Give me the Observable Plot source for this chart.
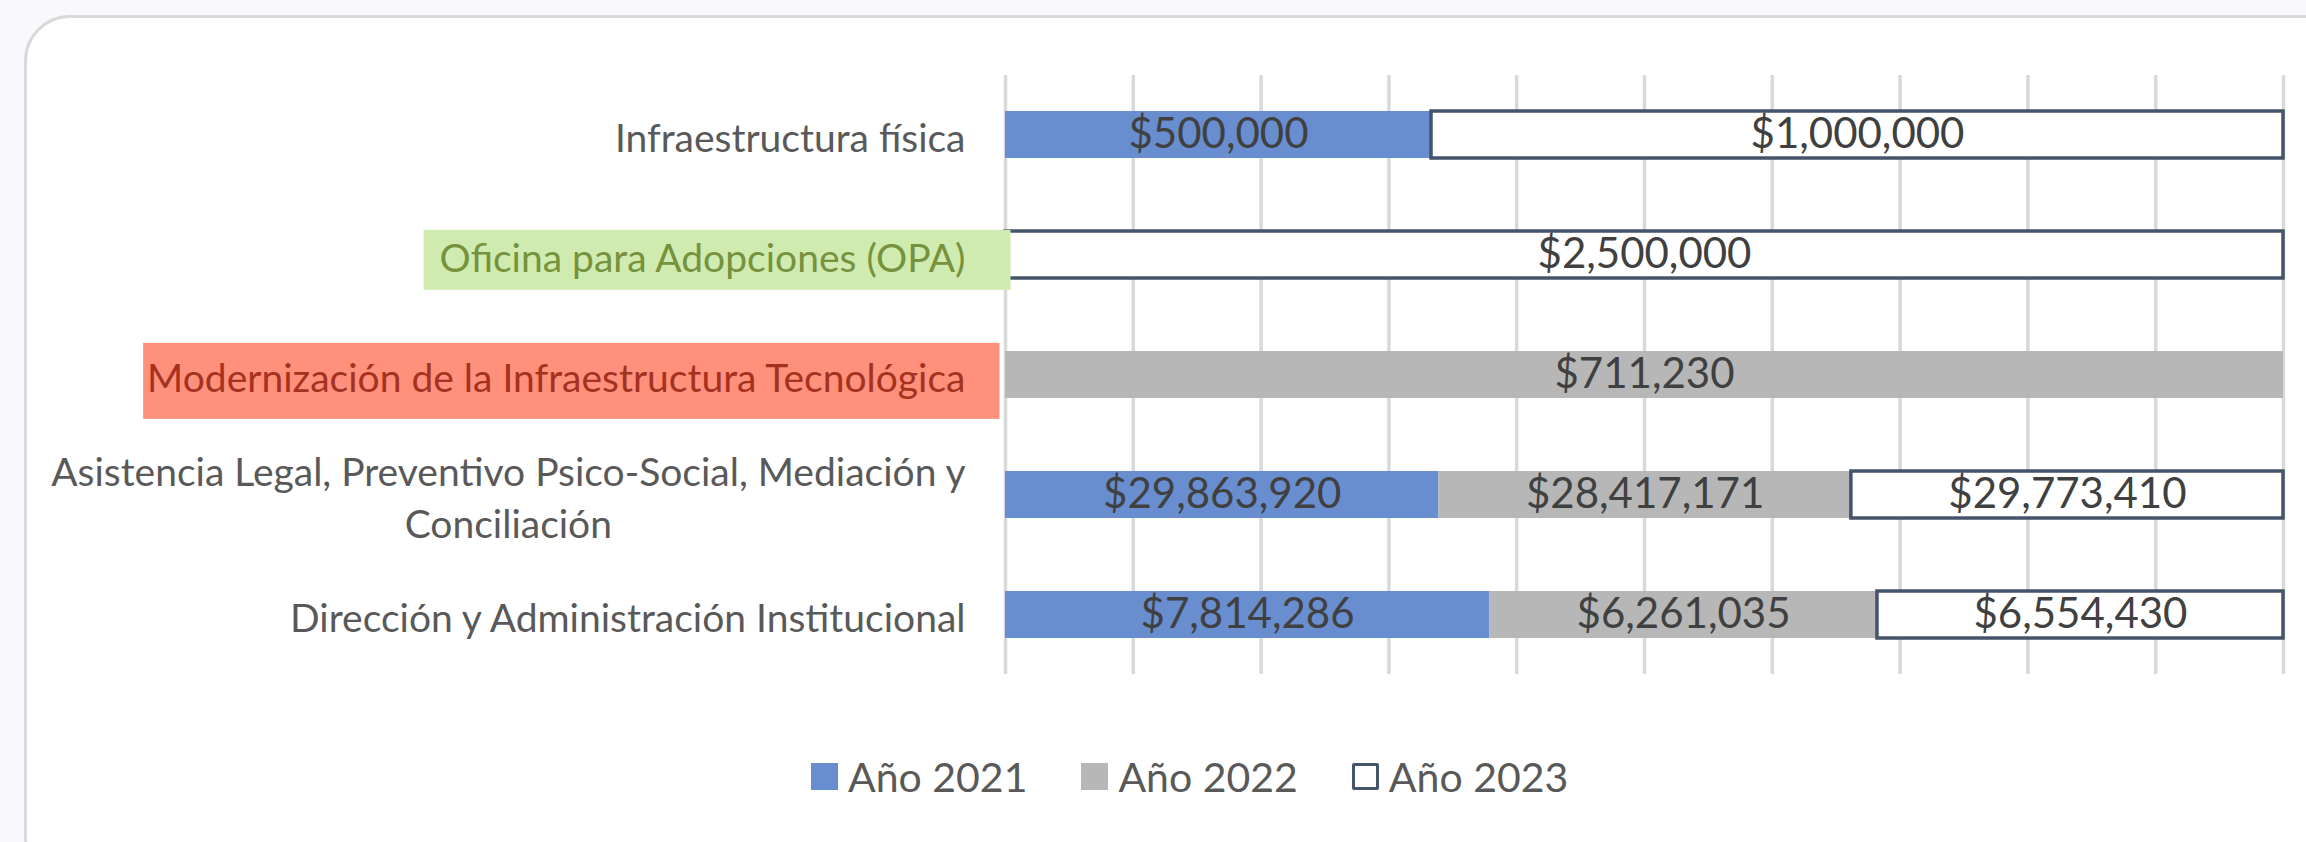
<!DOCTYPE html>
<html>
<head>
<meta charset="utf-8">
<script src="https://cdn.jsdelivr.net/npm/d3@7"></script>
<script src="https://cdn.jsdelivr.net/npm/@observablehq/plot@0.6"></script>
<style>
  html, body { margin: 0; padding: 0; }
  body { width: 2306px; height: 842px; background: #f8f8fd; position: relative; overflow: hidden; font-family: Lato, "Open Sans", sans-serif; }
  #card { position: absolute; left: 24px; top: 15px; width: 2330px; height: 870px; border: 3px solid #d9d9d9; border-radius: 46px; background: #ffffff; box-sizing: border-box; }
  #chart { position: absolute; left: 0; top: 0; }
  #legend { position: absolute; left: 811px; top: 752px; display: flex; align-items: center; gap: 54px; font-size: 41px; color: #595959; }
  .item { display: flex; align-items: center; gap: 10px; }
  .sw { width: 27px; height: 27px; box-sizing: border-box; }
</style>
</head>
<body>
<div id="card"></div>
<div id="chart"></div>
<div id="legend"></div>
<script>
// ---- data ----
const categories = [
  "Infraestructura física",
  "Oficina para Adopciones (OPA)",
  "Modernización de la Infraestructura Tecnológica",
  "Asistencia Legal, Preventivo Psico-Social, Mediación y Conciliación",
  "Dirección y Administración Institucional"
];
const categoryLabels = [
  "Infraestructura física",
  "Oficina para Adopciones (OPA)",
  "Modernización de la Infraestructura Tecnológica",
  "Asistencia Legal, Preventivo Psico-Social, Mediación y\nConciliación",
  "Dirección y Administración Institucional"
];
const years = ["Año 2021", "Año 2022", "Año 2023"];
const values2021 = [500000, null, null, 29863920, 7814286];
const values2022 = [null, null, 711230, 28417171, 6261035];
const values2023 = [1000000, 2500000, null, 29773410, 6554430];
const xTicks = [0, 0.1, 0.2, 0.3, 0.4, 0.5, 0.6, 0.7, 0.8, 0.9, 1];

// ---- styles ----
const fills = ["#698ed0", "#b7b7b7", "#ffffff"];
const outline = "#44546a";
const labelColors = ["#595959", "#76923c", "#a5321f", "#595959", "#595959"];
const highlight = {1: {fill: "#d0ebb0", padL: 16, padR: 45, h: 60, dy: 3},
                   2: {fill: "#ff907c", padL: 4, padR: 34, h: 76, dy: 4}};

const series = [values2021, values2022, values2023];
const table = [];
categories.forEach((c, i) => {
  years.forEach((y, j) => {
    const v = series[j][i];
    if (v != null) table.push({category: c, year: y, value: v});
  });
});

const fmt = d3.format("$,");
const stackOpts = {x: "value", y: "category", z: "year", offset: "normalize"};

const chart = Plot.plot({
  width: 2306,
  height: 700,
  marginLeft: 1005,
  marginRight: 23,
  marginTop: 75,
  marginBottom: 26,
  style: {fontFamily: "Lato, 'Open Sans', sans-serif", background: "transparent"},
  x: {domain: [0, 1], axis: null},
  y: {domain: categories, axis: null, paddingInner: 0.61, paddingOuter: 0.3},
  color: {domain: years, range: fills},
  marks: [
    Plot.gridX(xTicks, {stroke: "#d9d9d9", strokeOpacity: 1, strokeWidth: 3.5}),
    Plot.barX(table, Plot.stackX({
      ...stackOpts,
      fill: "year",
      stroke: d => d.year === "Año 2023" ? outline : "none",
      strokeWidth: 3.5
    })),
    Plot.text(table, Plot.stackX({
      ...stackOpts,
      text: d => fmt(d.value),
      fill: "#404040",
      fontSize: 42
    })),
    Plot.text(categories, {
      y: d => d,
      frameAnchor: "left",
      textAnchor: "end",
      dx: -40,
      text: (d, i) => categoryLabels[i],
      fill: (d, i) => labelColors[i],
      fontSize: 39,
      lineHeight: 1.35
    })
  ]
});
document.getElementById("chart").appendChild(chart);

// center multi-line label lines and add highlight boxes behind selected labels
const allTexts = Array.from(chart.querySelectorAll("text"));
categoryLabels.forEach((lab, i) => {
  const flat = lab.replace("\n", "");
  const t = allTexts.find(el => el.textContent === flat);
  if (!t) return;
  const tspans = t.querySelectorAll("tspan");
  if (tspans.length > 1) {
    let w = 0;
    tspans.forEach(s => { w = Math.max(w, s.getComputedTextLength()); });
    t.setAttribute("text-anchor", "middle");
    t.setAttribute("transform", (t.getAttribute("transform") || "") + ` translate(${-w / 2},0)`);
  }
  const h = highlight[i];
  if (h) {
    const b = t.getBBox();
    const r = document.createElementNS("http://www.w3.org/2000/svg", "rect");
    r.setAttribute("x", b.x - h.padL);
    r.setAttribute("width", b.width + h.padL + h.padR);
    r.setAttribute("y", b.y + b.height / 2 - h.h / 2 + h.dy);
    r.setAttribute("height", h.h);
    r.setAttribute("fill", h.fill);
    const tr = t.getAttribute("transform");
    if (tr) r.setAttribute("transform", tr);
    t.parentNode.insertBefore(r, t);
  }
});

// legend
const legend = d3.select("#legend");
years.forEach((y, j) => {
  const it = legend.append("div").attr("class", "item");
  it.append("div").attr("class", "sw")
    .style("background", fills[j])
    .style("border", j === 2 ? `3.5px solid ${outline}` : "none")
    .style("border-radius", j === 2 ? "2px" : "0");
  it.append("span").text(y);
});
</script>
</body>
</html>
